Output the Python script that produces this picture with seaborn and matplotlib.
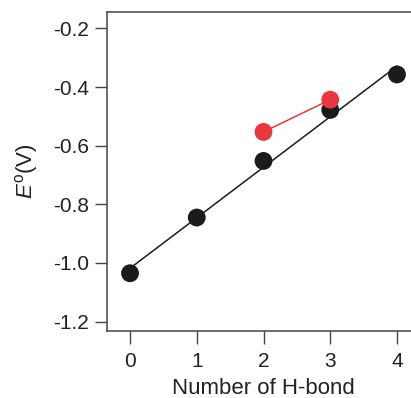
import numpy as np
import pandas as pd
import matplotlib
matplotlib.use("Agg")
import matplotlib.pyplot as plt
import seaborn as sns

# Data
hbond_black = [0, 1, 2, 3, 4]
e_black = [-1.035, -0.845, -0.652, -0.478, -0.357]
hbond_red = [2, 3]
e_red = [-0.553, -0.443]
y_ticks = [-1.2, -1.0, -0.8, -0.6, -0.4, -0.2]
x_ticks = [0, 1, 2, 3, 4]

sns.set_style("ticks")
plt.rcParams['font.family'] = ['Liberation Sans', 'DejaVu Sans']
plt.rcParams['axes.unicode_minus'] = False
plt.rcParams['mathtext.fontset'] = 'custom'
plt.rcParams['mathtext.rm'] = 'Liberation Sans'
plt.rcParams['mathtext.it'] = 'Liberation Sans:italic'

df_b = pd.DataFrame({"x": hbond_black, "y": e_black})
df_r = pd.DataFrame({"x": hbond_red, "y": e_red})

fig = plt.figure(figsize=(4.11, 3.98), dpi=100)
ax = fig.add_axes([107/411, 67/398, 313/411, 319/398])

sns.regplot(data=df_b, x="x", y="y", ci=None, truncate=True, ax=ax,
            scatter_kws=dict(s=165, color="#1c1a1b", edgecolor="none", alpha=1, zorder=3),
            line_kws=dict(color="#1c1a1b", lw=1.1, zorder=2))
sns.lineplot(data=df_r, x="x", y="y", ax=ax, color="#e8383d", lw=1.1, zorder=4)
sns.scatterplot(data=df_r, x="x", y="y", ax=ax, s=165, color="#e8383d",
                edgecolor="none", alpha=1, zorder=5)

ax.set_xlim(-0.345, 4.345)
ax.set_ylim(-1.232, -0.144)
ax.set_xticks(x_ticks)
ax.set_yticks(y_ticks)
ax.set_yticklabels([f"{v:.1f}" for v in y_ticks])
ax.tick_params(axis='both', labelsize=15, length=9, width=1, color="#444444",
               labelcolor="#222222", pad=4)
ax.tick_params(axis='x', pad=6)
for s in ax.spines.values():
    s.set_color("#444444")
    s.set_linewidth(1.1)

ax.set_xlabel("Number of H-bond", fontsize=16, color="#222222", labelpad=5)
ax.set_ylabel(r"$E^{\mathrm{o}}$(V)", fontsize=16, color="#222222", labelpad=9)

fig.savefig("out.png", dpi=100)
